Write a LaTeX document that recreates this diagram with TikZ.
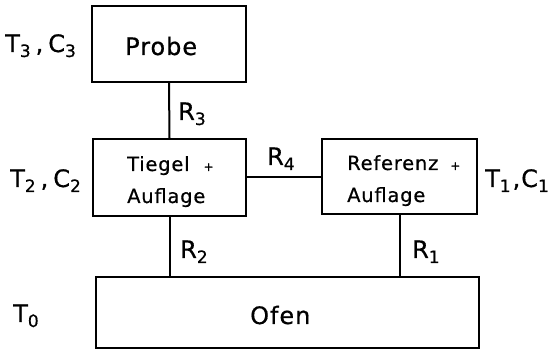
\documentclass[tikz,border=0pt]{standalone}
\usepackage{fontspec}
\setmainfont[LetterSpace=4,FakeBold=0.6]{DejaVu Sans}
% lowered index digit
\newcommand{\ix}[1]{\raisebox{-5pt}{\fontsize{17}{17}\selectfont #1}}
% small plus sign
\newcommand{\smallplus}{{\fontsize{12}{12}\selectfont +}}
\begin{document}
\begin{tikzpicture}[x=1pt,y=-1pt,
  box/.style={draw, line width=2pt, inner sep=0pt},
  link/.style={line width=2pt},
  txt/.style={anchor=base west, inner sep=0pt, font=\fontsize{24}{28}\selectfont},
  stxt/.style={anchor=base west, inner sep=0pt, font=\fontsize{19.5}{24}\selectfont}]
\useasboundingbox (0,0) rectangle (550,350);

% boxes
\node[box, minimum width=154pt, minimum height=76pt] (probe) at (169,44) {};
\node[box, minimum width=153pt, minimum height=77pt] (tiegel) at (169.5,177.5) {};
\node[box, minimum width=155pt, minimum height=75pt] (referenz) at (399.5,176.5) {};
\node[box, minimum width=383pt, minimum height=71pt] (ofen) at (287.5,312.5) {};

% box texts
\node[txt] (probeT) at (125,55) {Probe};
\node[stxt] (tiegelA) at (127,171) {Tiegel\hspace{14pt}\smallplus};
\node[stxt] (tiegelB) at (127,203) {Auflage};
\node[stxt] (referenzA) at (347,170) {Referenz\hspace{12pt}\smallplus};
\node[stxt] (referenzB) at (347,202) {Auflage};
\node[txt] (ofenT) at (250,324) {Ofen};

% connectors
\draw[link] (probe.south) -- (tiegel.north);
\draw[link] (tiegel.east) -- (tiegel.east -| referenz.west);
\draw[link] (tiegel.south) -- (tiegel.south |- ofen.north);
\draw[link] (referenz.south) -- (referenz.south |- ofen.north);

% resistances
\node[txt] (r3) at (178,120) {R\ix{3}};
\node[txt] (r4) at (267,165) {R\ix{4}};
\node[txt] (r2) at (180,258) {R\ix{2}};
\node[txt] (r1) at (412,258) {R\ix{1}};

% temperatures and capacities
\node[txt] (tc3) at (5,52) {T\ix{3}\hspace{5pt},\hspace{5pt}C\ix{3}};
\node[txt] (tc2) at (10,187) {T\ix{2}\hspace{5pt},\hspace{5pt}C\ix{2}};
\node[txt] (tc1) at (485,187) {T\ix{1}\hspace{2pt},C\ix{1}};
\node[txt] (t0) at (13,322) {T\ix{0}};
\end{tikzpicture}
\end{document}
